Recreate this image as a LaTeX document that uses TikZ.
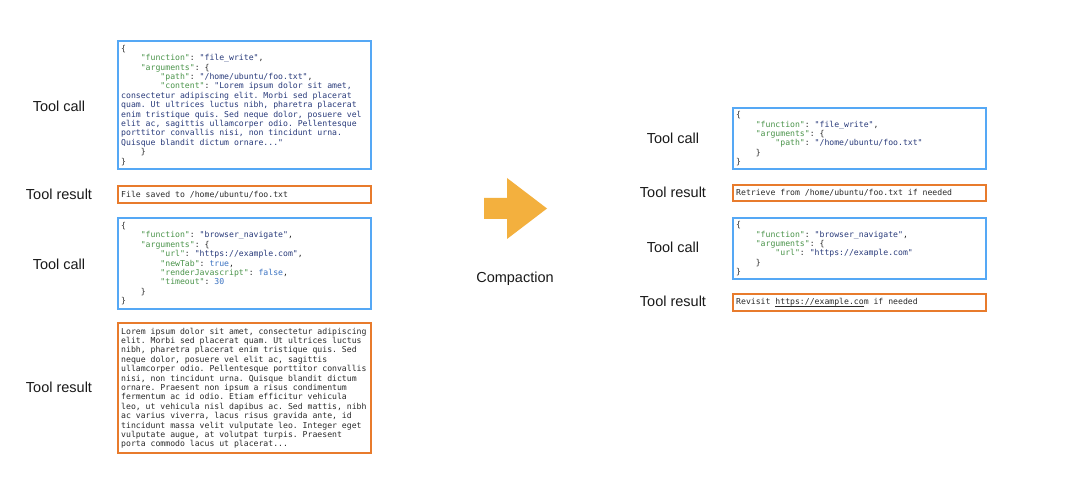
\documentclass[tikz,border=0pt]{standalone}
\usepackage{fontspec}
\setmainfont{Liberation Sans}
\setmonofont{DejaVu Sans Mono}[WordSpace={1,0,0},PunctuationSpace=WordSpace]
\definecolor{callblue}{HTML}{55A8F5}
\definecolor{resorange}{HTML}{E87B2C}
\definecolor{arrowgold}{HTML}{F3B03E}
\definecolor{jsonkey}{HTML}{4A944A}
\definecolor{jsonstr}{HTML}{283A7A}
\definecolor{jsonlit}{HTML}{3A72C2}
\definecolor{plaintxt}{HTML}{2A2A2A}
\newcommand{\jkey}[1]{\textcolor{jsonkey}{#1}}
\newcommand{\jstr}[1]{\textcolor{jsonstr}{#1}}
\newcommand{\jlit}[1]{\textcolor{jsonlit}{#1}}
\newcommand{\jin}{\phantom{0000}}
\newcommand{\ulink}[1]{\setbox0\hbox{#1}\rlap{\rule[-1.2pt]{\wd0}{0.5pt}}\box0}
\begin{document}
\begin{tikzpicture}[x=1pt,y=-1pt,
    codebox/.style={draw,line width=2.4pt,anchor=north west,align=flush left,
      text width=247pt,inner xsep=3pt,inner ysep=2pt,minimum width=253pt,
      text=plaintxt,font=\ttfamily\frenchspacing\fontsize{8.15}{9.4}\selectfont},
    callbox/.style={codebox,draw=callblue},
    resbox/.style={codebox,draw=resorange},
    lbl/.style={font=\fontsize{14.5}{16}\selectfont,text=black!90}]
  \useasboundingbox[fill=white] (0,0) rectangle (1080,489);
  % before compaction
  \node[callbox,minimum height=128pt] (call1) at (117,40) {\{\\
\jin\jkey{"function"}: \jstr{"file\_write"},\\
\jin\jkey{"arguments"}: \{\\
\jin\jin\jkey{"path"}: \jstr{"/home/ubuntu/foo.txt"},\\
\jin\jin\jkey{"content"}: \jstr{"Lorem ipsum dolor sit amet,}\\
\jstr{consectetur adipiscing elit. Morbi sed placerat}\\
\jstr{quam. Ut ultrices luctus nibh, pharetra placerat}\\
\jstr{enim tristique quis. Sed neque dolor, posuere vel}\\
\jstr{elit ac, sagittis ullamcorper odio. Pellentesque}\\
\jstr{porttitor convallis nisi, non tincidunt urna.}\\
\jstr{Quisque blandit dictum ornare..."}\\
\jin\}\\
\}};
  \node[resbox,minimum height=17pt] (res1) at (117,185) {File saved to /home/ubuntu/foo.txt};
  \node[callbox,minimum height=91pt] (call2) at (117,217) {\{\\
\jin\jkey{"function"}: \jstr{"browser\_navigate"},\\
\jin\jkey{"arguments"}: \{\\
\jin\jin\jkey{"url"}: \jstr{"https://example.com"},\\
\jin\jin\jkey{"newTab"}: \jlit{true},\\
\jin\jin\jkey{"renderJavascript"}: \jlit{false},\\
\jin\jin\jkey{"timeout"}: \jlit{30}\\
\jin\}\\
\}};
  \node[resbox,minimum height=130pt] (res2) at (117,322) {Lorem ipsum dolor sit amet, consectetur adipiscing\\
elit. Morbi sed placerat quam. Ut ultrices luctus\\
nibh, pharetra placerat enim tristique quis. Sed\\
neque dolor, posuere vel elit ac, sagittis\\
ullamcorper odio. Pellentesque porttitor convallis\\
nisi, non tincidunt urna. Quisque blandit dictum\\
ornare. Praesent non ipsum a risus condimentum\\
fermentum ac id odio. Etiam efficitur vehicula\\
leo, ut vehicula nisl dapibus ac. Sed mattis, nibh\\
ac varius viverra, lacus risus gravida ante, id\\
tincidunt massa velit vulputate leo. Integer eget\\
vulputate augue, at volutpat turpis. Praesent\\
porta commodo lacus ut placerat...};
  \node[lbl] (lcall1) at (59,106) {Tool call};
  \node[lbl] (lres1) at (59,194) {Tool result};
  \node[lbl] (lcall2) at (59,264) {Tool call};
  \node[lbl] (lres2) at (59,387) {Tool result};
  % compaction arrow
  \fill[arrowgold] (484,198) -- (507,198) -- (507,178) -- (547,208.5)
    -- (507,239) -- (507,219) -- (484,219) -- cycle;
  \node[lbl] (compact) at (515,279) {Compaction};
  % after compaction
  \node[callbox,minimum height=61pt] (call3) at (732,107) {\{\\
\jin\jkey{"function"}: \jstr{"file\_write"},\\
\jin\jkey{"arguments"}: \{\\
\jin\jin\jkey{"path"}: \jstr{"/home/ubuntu/foo.txt"}\\
\jin\}\\
\}};
  \node[resbox,minimum height=16pt] (res3) at (732,184) {Retrieve from /home/ubuntu/foo.txt if needed};
  \node[callbox,minimum height=61pt] (call4) at (732,217) {\{\\
\jin\jkey{"function"}: \jstr{"browser\_navigate"},\\
\jin\jkey{"arguments"}: \{\\
\jin\jin\jkey{"url"}: \jstr{"https://example.com"}\\
\jin\}\\
\}};
  \node[resbox,minimum height=17pt] (res4) at (732,293) {Revisit \ulink{https://example.co}m if needed};
  \node[lbl] (lcall3) at (673,138) {Tool call};
  \node[lbl] (lres3) at (673,192) {Tool result};
  \node[lbl] (lcall4) at (673,247) {Tool call};
  \node[lbl] (lres4) at (673,301) {Tool result};
\end{tikzpicture}
\end{document}
